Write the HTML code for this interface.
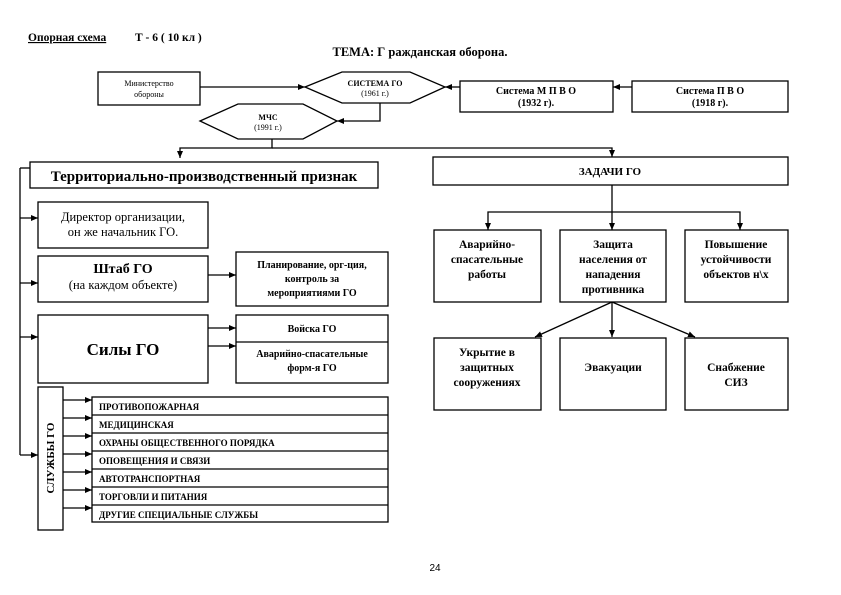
<!DOCTYPE html>
<html><head><meta charset="utf-8"><style>
body{margin:0;background:#fff}
svg{display:block}
text{font-family:"Liberation Serif",serif;fill:#000}
.b{font-weight:bold}
</style></head><body>
<svg width="841" height="595" viewBox="0 0 841 595" xmlns="http://www.w3.org/2000/svg">
<defs><marker id="a" markerWidth="8" markerHeight="8" refX="7" refY="4" orient="auto" markerUnits="userSpaceOnUse"><path d="M0,1 L7,4 L0,7 z" fill="#000"/></marker></defs>
<g stroke="#000" stroke-width="1.3" fill="none">
<rect x="98" y="72" width="102" height="33"/>
<polygon points="305,87 342,72 410,72 445,87 410,103 342,103"/>
<polygon points="200,121 238,104 303,104 337,121 303,139 238,139"/>
<rect x="460" y="81" width="153" height="31"/>
<rect x="632" y="81" width="156" height="31"/>
<rect x="30" y="162" width="348" height="26"/>
<rect x="433" y="157" width="355" height="28"/>
<rect x="38" y="202" width="170" height="46"/>
<rect x="38" y="256" width="170" height="46"/>
<rect x="236" y="252" width="152" height="54"/>
<rect x="38" y="315" width="170" height="68"/>
<rect x="236" y="315" width="152" height="68"/>
<line x1="236" y1="342" x2="388" y2="342"/>
<rect x="38" y="387" width="25" height="143"/>
<rect x="92" y="397" width="296" height="125"/>
<line x1="92" y1="415" x2="388" y2="415"/><line x1="92" y1="433" x2="388" y2="433"/><line x1="92" y1="451" x2="388" y2="451"/><line x1="92" y1="469" x2="388" y2="469"/><line x1="92" y1="487" x2="388" y2="487"/><line x1="92" y1="505" x2="388" y2="505"/>
<rect x="434" y="230" width="107" height="72"/>
<rect x="560" y="230" width="106" height="72"/>
<rect x="685" y="230" width="103" height="72"/>
<rect x="434" y="338" width="107" height="72"/>
<rect x="560" y="338" width="106" height="72"/>
<rect x="685" y="338" width="103" height="72"/>
</g>
<g stroke="#000" stroke-width="1.3" fill="none" marker-end="url(#a)">
<line x1="200" y1="87" x2="305" y2="87"/>
<polyline points="380,103 380,121 337,121"/>
<line x1="460" y1="87" x2="445" y2="87"/>
<line x1="632" y1="87" x2="613" y2="87"/>
<polyline points="272,139 272,148 180,148 180,158"/>
<polyline points="272,148 612,148 612,157"/>
<line x1="20" y1="218" x2="38" y2="218"/>
<line x1="20" y1="283" x2="38" y2="283"/>
<line x1="20" y1="337" x2="38" y2="337"/>
<line x1="20" y1="455" x2="38" y2="455"/>
<line x1="208" y1="275" x2="236" y2="275"/>
<line x1="208" y1="328" x2="236" y2="328"/>
<line x1="208" y1="346" x2="236" y2="346"/>
<line x1="63" y1="400" x2="92" y2="400"/>
<line x1="63" y1="418" x2="92" y2="418"/>
<line x1="63" y1="436" x2="92" y2="436"/>
<line x1="63" y1="454" x2="92" y2="454"/>
<line x1="63" y1="472" x2="92" y2="472"/>
<line x1="63" y1="490" x2="92" y2="490"/>
<line x1="63" y1="508" x2="92" y2="508"/>
<line x1="612" y1="185" x2="612" y2="230"/>
<polyline points="612,212 488,212 488,230"/>
<polyline points="612,212 740,212 740,230"/>
<line x1="612" y1="302" x2="535" y2="337"/>
<line x1="612" y1="302" x2="612" y2="337"/>
<line x1="612" y1="302" x2="695" y2="337"/>
</g>
<line x1="20" y1="168" x2="20" y2="455" stroke="#000" stroke-width="1.3"/>
<line x1="20" y1="168" x2="30" y2="168" stroke="#000" stroke-width="1.3"/>
<text x="28" y="41" font-size="11.5" class="b" text-decoration="underline">Опорная схема</text>
<text x="135" y="41" font-size="11.5" class="b">Т - 6 ( 10 кл )</text>
<text x="420" y="56" font-size="12.5" class="b" text-anchor="middle">ТЕМА: Г ражданская оборона.</text>
<g font-size="8" text-anchor="middle">
<text x="149" y="86">Министерство</text><text x="149" y="97">обороны</text>
<text x="375" y="86" class="b">СИСТЕМА ГО</text><text x="375" y="96">(1961 г.)</text>
<text x="268" y="120" class="b">МЧС</text><text x="268" y="130">(1991 г.)</text>
</g>
<g font-size="10" text-anchor="middle" class="b">
<text x="536" y="94">Система М П В О</text><text x="536" y="106">(1932 г).</text>
<text x="710" y="94">Система П В О</text><text x="710" y="106">(1918 г).</text>
</g>
<text x="204" y="181" font-size="15" class="b" text-anchor="middle">Территориально-производственный признак</text>
<text x="610" y="175" font-size="11" class="b" text-anchor="middle">ЗАДАЧИ  ГО</text>
<g font-size="12.5" text-anchor="middle">
<text x="123" y="221">Директор организации,</text><text x="123" y="236">он же начальник ГО.</text>
<text x="123" y="273" font-size="14" class="b">Штаб ГО</text><text x="123" y="289">(на каждом объекте)</text>
</g>
<text x="123" y="355" font-size="17" class="b" text-anchor="middle">Силы ГО</text>
<g font-size="10" class="b" text-anchor="middle">
<text x="312" y="268">Планирование, орг-ция,</text><text x="312" y="282">контроль за</text><text x="312" y="296">мероприятиями ГО</text>
<text x="312" y="332">Войска ГО</text>
<text x="312" y="357">Аварийно-спасательные</text><text x="312" y="371">форм-я  ГО</text>
</g>
<text transform="translate(54,458) rotate(-90)" font-size="11" class="b" text-anchor="middle">СЛУЖБЫ   ГО</text>
<g font-size="9" class="b">
<text x="99" y="410">ПРОТИВОПОЖАРНАЯ</text>
<text x="99" y="428">МЕДИЦИНСКАЯ</text>
<text x="99" y="446">ОХРАНЫ ОБЩЕСТВЕННОГО ПОРЯДКА</text>
<text x="99" y="464">ОПОВЕЩЕНИЯ И СВЯЗИ</text>
<text x="99" y="482">АВТОТРАНСПОРТНАЯ</text>
<text x="99" y="500">ТОРГОВЛИ И ПИТАНИЯ</text>
<text x="99" y="518">ДРУГИЕ СПЕЦИАЛЬНЫЕ СЛУЖБЫ</text>
</g>
<g font-size="11.5" class="b" text-anchor="middle">
<text x="487" y="248">Аварийно-</text><text x="487" y="263">спасательные</text><text x="487" y="278">работы</text>
<text x="613" y="248">Защита</text><text x="613" y="263">населения от</text><text x="613" y="278">нападения</text><text x="613" y="293">противника</text>
<text x="736" y="248">Повышение</text><text x="736" y="263">устойчивости</text><text x="736" y="278">объектов н\х</text>
<text x="487" y="356">Укрытие в</text><text x="487" y="371">защитных</text><text x="487" y="386">сооружениях</text>
<text x="613" y="371">Эвакуации</text>
<text x="736" y="371">Снабжение</text><text x="736" y="386">СИЗ</text>
</g>
<text x="435" y="571" font-size="10" text-anchor="middle" style="font-family:'Liberation Sans',sans-serif">24</text>
</svg>
</body></html>
